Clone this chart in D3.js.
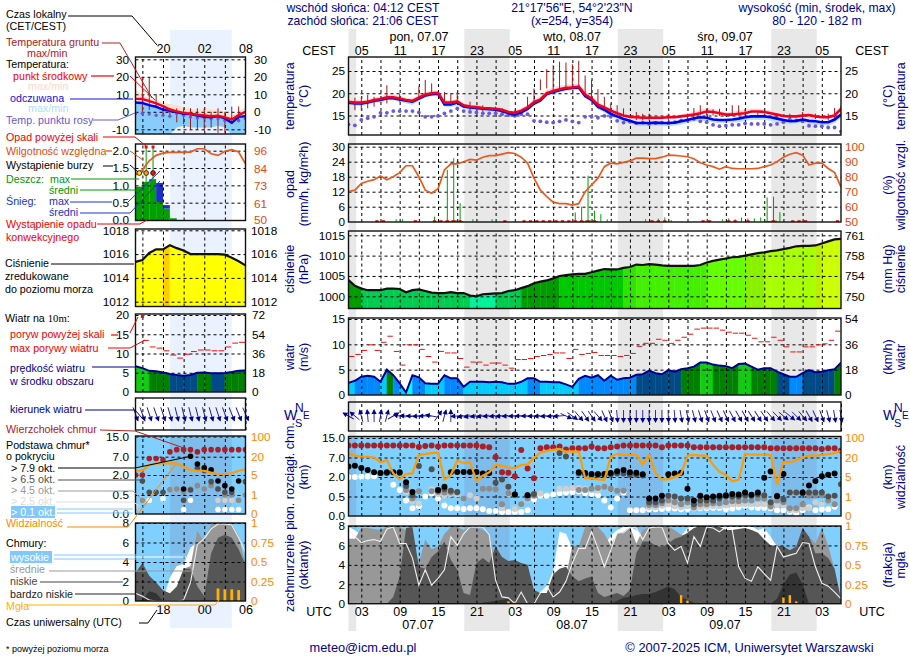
<!DOCTYPE html>
<html>
<head>
<meta charset="utf-8">
<script src="https://cdn.jsdelivr.net/npm/d3@7"></script>
<style>
html, body { margin: 0; padding: 0; background: #fff; }
text { font-family: "Liberation Sans", Arial, sans-serif; font-size: 10.7px; }
</style>
</head>
<body>
<svg id="chart" width="910" height="660"></svg>
<script>
const N = null;

// main meteogram: hourly, index 0 = 07.07 01 UTC
const temperature = [18.1,17.9,17.9,18.1,18.5,18.7,19.1,19.1,18.8,18.5,18.3,19,19.7,20,20.1,17.9,17.9,18.2,17.3,17,16.9,16.7,16.6,16.5,16.3,15.8,15.6,16.1,16.8,18,18.6,20,20.5,20.9,21.2,21.3,21.5,19.7,18.8,17.4,16.8,16.1,15.5,15,14.7,14.6,14.5,14.5,14.5,14.5,14.6,14.6,14.8,15,15.2,15.5,15.9,15.8,15.5,15.2,15.2,15.4,15.5,15.9,15.9,15.8,15.5,15.2,14.9,14.8,14.8,15,15.1,14.8,14.6,14.6,15,16.5];
const temperatureMax = [18.9,18.5,18.5,18.6,19,19.3,19.8,19.7,19.5,19,18.9,19.6,20.3,20.6,20.6,18.5,18.4,18.7,17.8,17.5,17.3,17.1,17,16.9,16.7,16.2,16,16.6,17.4,18.6,19.4,20.8,21.3,21.7,21.9,22,22.2,20.6,19.6,18.1,17.3,16.6,16,15.4,15.1,15,14.9,14.8,14.8,14.8,15,15,15.3,15.5,15.9,16.3,16.7,16.5,16.1,15.8,15.8,16.2,16.4,16.6,16.6,16.4,16.1,15.7,15.3,15.1,15.1,15.4,15.5,15.2,15,15,15.6,17.2];
const feelsLike = [17.9,17.7,17.7,17.9,18.3,18.5,18.9,18.9,18.6,18.3,18.1,18.8,19.5,19.8,19.9,17.5,17.5,17.9,17,16.8,16.7,16.5,16.4,16.3,16,15.5,15.2,15.7,16.5,17.7,18.4,19.8,20.3,20.7,21,21.2,21.3,19.4,18.5,17,16.3,15.4,14.8,14.2,13.8,13.3,13.3,13.3,13.4,13.3,13.3,13.4,13.7,14,14.4,14.6,14.5,14.1,14,14,14.1,14.3,14.6,14.8,14.8,14.8,14.6,14.3,14,13.7,13.8,14.1,13.8,13.7,13.5,13.5,14.1,15.2];
const feelsLikeMin = [17.4,17.2,17.2,17.5,17.8,18,18.4,18.4,18.1,17.7,17.4,18.2,19,19.3,19.4,17,16.9,17.3,16.5,16.2,16.1,16,15.9,15.8,15.5,15,14.7,15.2,16,17.2,17.9,19.3,19.8,20.2,20.5,20.7,20.8,18.9,18,16.4,15.7,14.8,14.2,13.6,13.2,12.7,12.6,12.6,12.7,12.6,12.6,12.7,13,13.3,13.6,13.8,13.7,13.4,13.3,13.3,13.4,13.5,13.8,14,14,14,13.8,13.5,13.2,13,13.1,13.4,13.1,12.9,12.7,12.7,13.3,14.5];
const dewPoint = [13,12.8,14,14.4,14.7,15.6,15.6,16,16,16,16,15.7,14.7,14.7,14.9,15.5,16,16.6,16,15.8,15.7,15.5,15.5,15.5,15.3,15.1,14.9,15.3,15.3,13.8,13.7,13.5,13.4,13.7,14,13.7,13.4,14.7,14.7,14.5,14.9,14.7,13.8,13.4,13.6,13.3,13.4,13.1,13.3,13.4,13.3,13.5,13.9,14,14.2,13.7,13.5,12.9,12.6,12.7,12.9,12.9,13.2,13.1,13.1,13.1,12.9,13.1,13.5,14.1,13.9,13.7,12.7,12.6,12.6,12.3,12.3,11.4];
const groundMax = [N,19,19.2,19.6,19.2,N,21.8,N,19.8,N,N,21.5,23,22.2,N,20.3,20,20.3,N,18.1,N,17.3,N,17,16.6,N,16.2,N,19.2,21.1,23.1,25.4,26.3,27.1,26.9,26.5,27.3,24,23,20.9,19.2,17.7,17.3,16.6,N,15.8,15.4,15.4,N,N,15.4,N,N,15.4,16.7,17.3,16.5,16.4,16.5,N,17.3,17.3,16.5,N,15.8,15.4,N,15.4,N,15.4,N,15.8,N,15.4,N,15.4,16.7,17.2];
const groundMin = [N,16.2,16.2,16.6,17,N,17.7,N,18.1,N,N,19,19.6,19.6,N,17.3,17.3,17.7,N,16.2,N,15.8,N,15.5,15.1,N,15.1,N,17,18.1,20.7,21.1,20.7,20.7,21.1,21.3,21.3,19.2,18.5,16.6,16.6,15.5,15.1,14.7,N,14,13.9,13.9,N,N,13.9,N,N,14.2,14.6,15,15,15,14.9,N,15,15,15,N,14.6,14.6,N,14.2,N,14.2,N,14.2,N,14.2,N,13.9,13.9,15];
const humidity = [70,71,75.5,77,78,80.5,78,80,82.7,87.3,87.3,80,71,69,72,84.5,88.5,88.5,90,91.5,91,93,94,94,95,96,95.5,93,89,79,71,66.7,63,62,62,61,62,70,74.5,79,86.7,89,88.5,89.5,90.5,92.4,92.4,92,92,93,94.4,94.2,93.8,93.3,92,89.3,87.8,86.7,85,86.7,85.5,85.3,85.3,85.3,85.5,86.7,87.8,90,93,95,96,94.4,87.8,89,89,85.5,82.7,73];
const rainMax = [0,0,0,0,0,0,0,1,1,0,0,0,0,2,0,20.7,25.4,7.4,0,1,0,0,1,0,0,0,0,0,0,0,0,0,0,0,0,3.7,6,18.4,4.4,3,1,0,0,0,0,0,1,0,1.2,1.7,.7,0,0,0,0,0,0,0,1,1.3,1,1.7,1.3,1.3,1.7,9.7,10,3.8,0,0,0,0,0,0,0,0,0];
const rainMean = [0,0,0,0,0,0,0,0,0,0,0,0,0,0,0,.3,.5,.3,0,0,0,0,0,0,0,0,0,0,0,0,0,0,0,0,0,0,.3,.5,.3,0,0,0,0,0,0,0,0,0,0,0,0,0,0,0,0,0,0,0,0,0,0,0,0,0,0,.3,.4,0,0,0,0,0,0,0,0,0,0];
const convectiveHours = [4,5,10,13,14,15,16,17,24,27,28,29,30,31,32,33,34,35,36,37,38,47,48,49,55,56,59,60,62,66,69,70,71,76];
const pressure = [1004,1002.6,1001.9,1001.5,1001.5,1001.5,1001.9,1001.9,1001.8,1001,1001.5,1001.7,1001.3,1000.9,1000.8,1000.8,1001,1000.8,1000.8,1000.2,1000,1000.5,1000.6,1000.7,1000.8,1001.3,1001.5,1002,1002.5,1003.2,1003.6,1003.9,1004.4,1005,1005.2,1005.4,1005.5,1005.5,1005.9,1006.3,1006.7,1006.6,1006.6,1007,1007.2,1007.8,1007.7,1007.9,1007.8,1007.6,1007.5,1007.5,1007.5,1007.5,1007.5,1007.7,1008.3,1008.7,1009,1009.3,1009.6,1009.7,1010,1010.3,1010.6,1010.8,1011.1,1011.3,1011.6,1011.9,1012.3,1012.4,1012.4,1012.5,1013,1013.5,1014,1014.1];
const windSpeed = [2.4,2.8,3.6,3.8,3.6,2.6,5,3.9,2.3,.5,3.9,3.5,2.3,2.2,2.2,3.9,3.3,3.3,1.6,2.6,2.6,2.6,2.5,2.6,2.5,2.2,2.2,2.6,3.3,3.3,2.6,2.6,2.5,2.5,2.1,1.6,3.2,3.8,3.4,3.9,2.8,3.8,3,3.3,3.4,4,4.1,4.8,4.3,4.1,4.9,4.6,5.1,5.3,5.6,6.4,6.4,6,5.8,5.7,5.3,6.1,6.2,5.6,5,5.3,5.3,4.6,4.1,3.6,3.6,4.3,4.9,4.5,4.6,4.9,5.1,6.4];
const windGust = [7.6,8,8.8,9.9,8.8,10.4,11.6,8.6,5.9,9.9,9.9,9,7.6,6.5,8.6,8.3,8.3,7.2,5.5,6.5,6.5,5.9,6.3,6.3,5.9,5.3,7,7,7.2,7.6,7.8,8,8.3,8.3,7.2,9,8,8.2,8.4,7.8,7.8,7.8,7.6,7.8,8.2,9.6,10.2,10.2,11,10.8,10.2,10.8,11.4,12,13,13.2,13.2,13.2,12.8,12.4,12.2,12.2,11.8,11.2,10.5,10.5,11.4,10.8,9.5,8.5,8.5,9.5,9.5,9.9,10.1,10.8,12.6];
const windHeading = [300,310,345,355,0,10,15,60,280,275,270,265,270,280,35,15,0,265,260,260,262,262,265,265,265,268,268,270,270,268,268,266,265,265,115,125,140,145,145,140,155,160,175,180,180,180,180,180,180,180,178,175,170,168,165,162,160,158,155,155,152,150,150,148,148,145,140,135,130,130,135,140,150,155,160,165,170,170];
const cloudTop = [11.9,11.9,11.9,11.9,11.9,11.9,11.9,11.9,11.9,11.9,11.9,11.3,11.7,11.9,11.5,11.9,11.9,11.9,11.9,11.9,11.9,11.5,11.2,7.2,3.2,3.1,2.2,10.1,4.2,1.9,10.8,11.2,11.2,11.5,10.3,10.8,10.8,10.8,11.5,10.8,10.8,11.2,11.5,11.9,11.9,11.9,11.9,11.9,11.9,11.2,11.9,11.9,11.9,11.9,11.2,11.2,11.2,11.2,11.2,11.2,11.2,11.2,11.2,11.2,11.2,11.2,10.8,10.8,10.8,10.8,10.8,10.8,10.8,10.8,10.5,10.8,10.8,9.9];
const baseOver79 = [4.7,4.9,4.3,3.8,3.2,3,3.2,3.2,3.2,1.6,.85,N,N,N,1,1.25,3.2,3.3,3.3,3.3,3.3,2.9,3,N,N,N,.65,N,.6,N,N,N,N,N,N,N,3.2,3,2.8,2.8,2.8,3,3.5,3.8,3.2,3.1,2.7,.45,.45,.55,2.7,2.9,3.1,1.1,.4,.55,.48,.5,.55,.6,.7,.65,.8,.63,.8,1.95,3.4,.52,2.75,N,N,.8,1.35,1.7,2.2,2.6,2.9,N];
const baseOver65 = [N,N,N,N,N,3,3,N,3,1.3,.6,4.85,N,4,.95,1.05,.95,.85,N,N,N,N,N,1.55,1.8,1.25,.65,N,.6,.7,N,N,N,8.8,7.4,N,2.9,2.7,2.5,2.5,2.5,2.7,2.9,2.9,2.5,2.6,2.4,.35,.35,.4,.55,.5,.45,.45,.3,.4,.4,.4,.45,.5,.5,.5,.6,.55,.65,.6,.35,.55,.42,.8,.8,.75,.8,.8,.8,.5,.55,1.45];
const baseOver45 = [N,N,N,N,N,N,N,N,N,1,.45,.9,N,.9,.85,.8,.8,.8,.45,N,N,1.1,1.1,1.05,.3,.75,.6,.3,.45,.55,N,N,N,N,N,N,1,1,1.1,1.15,1.25,1.1,.95,.95,N,N,N,.28,.28,.33,.4,.35,.3,.35,.22,.3,.3,.33,.33,.35,.38,.38,.4,.4,.45,.45,.25,.4,.35,.2,.2,.3,.55,.6,.6,.4,.3,N];
const baseOver25 = [N,N,N,N,N,N,N,N,N,.85,.38,.32,N,1.05,.7,.55,.7,.65,.45,.6,.45,N,N,N,.2,.7,.18,.28,.42,.65,.73,N,N,1.1,1.1,1.15,1.15,1.1,1,.95,N,N,N,N,N,N,N,.22,.22,.26,.3,.25,.22,.25,.2,.22,.24,.25,.25,.27,.3,.3,.3,.3,.3,.3,.22,.28,.27,.15,.15,.2,.2,.35,.3,.45,.5,N];
const baseOver01 = [2,2,2.05,2.1,2.2,N,N,1.4,1,.4,.2,.25,.5,.75,.45,.27,.2,.2,.18,.2,.2,.17,.13,.13,.1,.1,.1,.1,.15,.42,.55,.55,.65,.75,.8,.85,.88,.75,.7,.6,.4,.22,.45,.8,.15,.15,.15,.17,.17,.18,.19,.19,.17,.18,.2,.2,.2,.21,.21,.17,.19,.22,.26,.22,.21,.21,.2,.15,.15,.11,.08,.15,.22,.15,.17,.17,.24,N];
const visibility = [35,28,24,23,20,16.4,18,7.8,4.5,7.3,7.8,31,34,38,40,4.5,6.5,17.7,15.6,16.4,4.2,6,8.6,14.3,13.5,12.5,11.7,14.3,14.6,19.5,40,47,51,55,44,45,44,4.7,4.7,4.5,4.4,24,34,31,31,31,14.8,31,7.8,4.5,4.5,5.1,7.3,28,31,28,28,14.3,9,6.5,4.1,4.4,35,32,32,32,31,3.5,16.6,16.4,18,21,28,28,31,34,38,47];
const cloudHigh = [7.9,7.6,7,6.5,6.5,6.5,6.5,6.5,6,6,5,4,4,4,4,4,5,5,5,5,5,5,5,2,0,0,0,0,0,1.1,1.2,1.75,3.4,7.4,7.2,5.7,5.5,5,5,5,6,7,7.6,7.9,7.9,7.6,7,7,7,7,7,7,7,7.8,8,8,8,7.9,8,8,7.9,7.9,8,8,7.6,7.8,6.9,5.9,4,3,2,2,2,1,1,0,0,0];
const cloudMid = [6.7,6.7,7.8,7.8,7.7,7.6,7.9,8,7.9,7.6,6.4,4.2,6.6,5.6,5.9,7.2,7.9,7.9,7.6,7.9,7.8,7.6,7.2,4.2,0,0,0,0,0,0,1.1,1.1,2.5,2.8,2.8,6,5.9,7.9,8,7.9,7.2,6,7.2,7.4,7.9,6.2,7.6,7.9,7.8,7.9,7.9,7.6,7.1,7.1,7.6,7.9,7.9,7.9,7.9,7.6,7.5,7.6,7.7,7.6,7.3,6.6,6,5.9,5.9,5.5,5.5,7.6,6.9,6.2,7.8,6,3.5,.4];
const cloudLow = [0,0,0,0,0,0,0,.7,2.8,7.8,7.9,3.8,3.6,4.8,5.4,6.4,4.5,3.5,1.1,.9,4.2,4.7,4.2,5.9,4.8,4.4,4.5,4.2,4,1.4,1.1,1.1,3,3.6,3.8,2.8,2.3,2.6,2.8,1.1,.7,.9,1.1,.8,1.4,5.2,6.4,6.4,6,5.8,6.2,6.7,6.9,7.3,7.8,8,8,7.9,7.9,7.6,7.6,7.7,7.8,7.6,7.3,6.6,6,6,5.9,5.5,5.9,7.8,6.9,5.2,5.2,4.7,3.6,.4];
const cloudVeryLow = [0,0,0,0,0,0,0,0,0,0,0,0,0,0,0,0,0,0,0,0,0,.1,.2,.3,.4,.5,0,0,0,0,0,0,0,0,0,0,0,0,0,0,0,0,.3,.6,.7,.9,1,1,1.2,1.5,1.8,1.5,.7,.4,.1,0,0,0,0,0,0,0,0,0,0,0,0,.5,2,3,3.2,2,0,0,0,0,0,0];
const cloudLine = [7.6,6.9,6.3,6.5,6.6,6.4,7.7,7.9,6.2,6.2,4.7,1.9,3.5,1.9,2.6,3.5,6.9,6,7.2,7.9,7.9,7.9,7.1,2.4,.7,.6,0,1.2,0,0,1.1,1.8,.7,1.2,2.3,4.2,5.7,5.7,7.4,5.7,3.8,5.5,7.3,7.3,7.9,7.8,6.6,7.8,7.9,7.9,6.2,5.5,5.9,4.2,6.9,5.9,7.9,7.8,7.4,7.9,7.6,3.8,2.6,2.3,3.8,3.1,2.4,5.9,4.8,5,5.2,6.3,6.2,3.8,2.1,1.8,1.2,.5];
const fogHours = [25,26,52,53,68,69,70];
const fogValues = [.03,.03,.11,.04,.08,.11,.03];

const nightStart = [-1,18.1,42.1,66.1];
const nightEnd = [1.2,25.2,49.2,73.2];
const gridHours = d3.range(2, 78, 3);
const localTicks = d3.range(2, 78, 6);
const localLabels = ["05","11","17","23","05","11","17","23","05","11","17","23","05"];
const utcLabels = ["03","09","15","21","03","09","15","21","03","09","15","21","03"];

// legend strip: hourly, index 0 = 14 UTC
const sideTemperature = [7.4,7.3,6.1,4.8,3.2,1.3,.2,-.6,-1.1,-1.7,-2.1,-2.5,-2.3,-3.2,-4.4,-1.9,0];
const sideTemperatureMax = [13,9.5,7.6,6.7,5.2,4.4,3.8,2.9,1.9,1,1.9,1.3,1,0,-1.9,0,2.9];
const sideFeelsLike = [5.3,5,3.8,2.9,1.3,.6,-.2,-1.1,-1.3,-2.1,-2.9,-3.2,-2.5,-3.8,-6.3,-2.9,-2.5];
const sideFeelsMin = [-13,-13,-13,-13,-13,-13,-9,-8,-9,-9,-9,-9,-8,-9,-13,-13,-13];
const sideDewPoint = [-1,-1,-1.3,-2,-2,-2.5,-1,-2,-3,-3.5,-3.5,-4,-4,-5,-6,-5,-4];
const sideGroundMax = [N,20,19.5,10,3,2,2,2,2,2,2,0,2,0,3,3,N];
const sideGroundMin = [N,0,1,2,-2,-3,-6,-7,-10,-10,-11,-9,-12,-12,-6,-6,N];
const sideHumidity = [80,83.3,89.3,92.9,94.4,94.9,94.9,95.1,95.1,97.3,97.3,94,92.9,95.6,96.7,95.1,87.3];
const sideRain = [.96,1.1,1.18,.52,.33,.05];
const sideSnow = [0,0,0,.55,.1,0];
const sideRainMaxHours = [0,1,2];
const sideRainMax = [.95,2.1,2.1];
const sideStormColors = ["#ffdd00","#ff9900","#ee1111"];
const sidePressure = [1015.35,1015.5,1016.1,1016.4,1016.4,1016.75,1016.5,1016.3,1016,1016,1016,1016,1016,1015.95,1015.7,1015.4,1015.05];
const sideWind = [6.7,6.2,5.5,5.4,5.1,4.7,4.4,4.2,4.4,5,5.05,4.9,4.9,4.95,5.2,5.5,5.6];
const sideGust = [N,13.4,11.7,11.4,10.7,9.6,8.8,9.8,10.5,10.9,10.9,10.7,10.7,11.7,12.7,12.9];
const sideHeading = [160,160,162,160,162,164,166,166,166,166,166,164,162,160,158,158,156];
const sideTop = [2,2,6.5,6.5,6.1,8.9,9.8,9.8,9.8,8.9,9.8,9.8,9.8,9.8,9.8,9.8,9.8];
const sideOver79 = [N,N,N,N,N,N,N,.95,7.2,5,4,3.4,1.55,1.2,.95,1.55,N];
const sideOver65 = [N,1.55,.7,.7,.7,N,N,.36,.87,3.8,3.2,1.5,.95,.7,.7,N,1.5];
const sideOver45 = [N,.36,N,N,N,.9,.95,.75,.95,1.2,.95,1.2,.95,.5,.5,.36,.5];
const sideOver25 = [.2,N,N,N,N,.9,N,N,N,N,N,N,.36,.36,.36,N,N];
const sideOver01 = [N,.36,.36,N,.4,N,N,.12,.36,N,N,N,.12,.12,.12,.12,N];
const sideVisibility = [8.5,8.5,13.2,14.5,14.5,14.5,14.5,11.8,9.1,8.5,8.5,6.9,5.8,5.8,6.4,8.5,9.6];
const sideHigh = [0,0,0,0,.1,2.4,3.6,3.8,5.5,6,6,6,6,6,5,3,0];
const sideMid = [0,0,0,0,0,0,0,3.3,3.6,7.2,6,7.9,7.9,8,8,6.7,3.8];
const sideLow = [2.9,3.9,2.6,1.9,1.1,.8,1.5,3.3,3.3,1.5,.5,4.9,6.5,6.8,6.5,5.3,3.7];
const sideVeryLow = [0,.1,1,.8,0,0,0,0,0,0,0,0,0,0,0,0,0];
const sideLine = [.8,.5,.1,0,0,0,0,.1,1.9,5.8,6.4,7.4,7.9,7.9,7.8,6.5,5];
const sideFogHours = [12,13,14,15];
const sideFog = [.16,.15,.15,.14];

const navy = "#000090", orange = "#ff8800", rhOrange = "#e04a10", sky = "#80d0ff";

let svg = d3.select("#chart");
let xMain = d3.scaleLinear().domain([0, 77]).range([348.5, 841]);
let xSide = d3.scaleLinear().domain([0, 16]).range([135.5, 245.5]);

let clip = svg.append("defs");

let pressureColor = d3.scaleThreshold()
    .domain([1000.7, 1002, 1004.6, 1006.9, 1007.4, 1008.2, 1009.8, 1010.7, 1012.5, 1013])
    .range(["#00f29a", "#00cc50", "#009c00", "#00c800", "#2de600", "#44f000", "#66ff00", "#88f000", "#a8ff00", "#bbee00", "#ccff00"]);
let sidePressureColor = d3.scaleThreshold().domain([1016.6]).range(["#ffff00", "#ffcc00"]);
let windColor = d3.scaleThreshold()
    .domain([1, 2.7, 3.95, 4.95, 6.05])
    .range(["#00ffee", "#00ccff", "#0088ff", "#004a88", "#008000", "#11cc11"]);
let sideWindColor = d3.scaleThreshold().domain([4.95, 5.55]).range(["#004a88", "#008000", "#11cc11"]);

function dashedGrid(g, x, y, top, bottom, hours, levels) {
    let vertical = g.append("g").attr("transform", `translate(0,${bottom})`)
        .call(d3.axisBottom(x).tickValues(hours).tickSize(top - bottom).tickFormat(""));
    let horizontal = g.append("g").attr("transform", `translate(${x.range()[0]},0)`)
        .call(d3.axisLeft(y).tickValues(levels).tickSize(x.range()[0] - x.range()[1]).tickFormat(""));
    [vertical, horizontal].forEach(a => {
        a.select(".domain").remove();
        a.selectAll("line").attr("stroke", "#000").attr("stroke-dasharray", "3,3");
    });
}

function tickLabels(y, levels, labels, posX, side, color) {
    let axis = side === "left" ? d3.axisLeft(y) : d3.axisRight(y);
    let a = svg.append("g").attr("transform", `translate(${posX},0)`)
        .call(axis.tickValues(levels).tickSize(0).tickPadding(0).tickFormat((d, i) => labels[i]));
    a.select(".domain").remove();
    a.selectAll("text").attr("fill", color || "#000").style("font-size", "11.8px");
}

function frame(x, top, bottom) {
    svg.append("rect").attr("x", x.range()[0]).attr("y", top)
        .attr("width", x.range()[1] - x.range()[0]).attr("height", bottom - top)
        .attr("fill", "none").attr("stroke", "#111").attr("stroke-width", 1.4);
}

function clipped(id, x, top, bottom) {
    clip.append("clipPath").attr("id", id).append("rect")
        .attr("x", x.range()[0]).attr("y", top)
        .attr("width", x.range()[1] - x.range()[0]).attr("height", bottom - top);
    return svg.append("g").attr("clip-path", `url(#${id})`);
}

function lineOf(g, x, y, values, color, width) {
    g.append("path").datum(values)
        .attr("fill", "none").attr("stroke", color).attr("stroke-width", width)
        .attr("d", d3.line().defined(d => d !== null).x((d, i) => x(i)).y(d => y(d)));
}

function band(g, x, y, upper, lower, color) {
    g.append("path").datum(upper.map((d, i) => [d, lower[i]]))
        .attr("fill", color)
        .attr("d", d3.area().x((d, i) => x(i)).y0(d => y(d[1])).y1(d => y(d[0])));
}

// one filled slice per hour down to floorY, coloured by the value at its left edge (or right, with shift 1)
function slices(g, x, y, values, color, floorY, shift) {
    let area = d3.area().x(p => x(p[0])).y0(floorY).y1(p => y(p[1]));
    g.selectAll(null).data(values.slice(0, -1)).join("path")
        .attr("fill", (d, i) => color(values[i + (shift || 0)]))
        .attr("stroke", (d, i) => color(values[i + (shift || 0)])).attr("stroke-width", 0.4)
        .attr("d", (d, i) => area([[i, d], [i + 1, values[i + 1]]]));
}

function dots(g, x, y, values, color, r) {
    g.selectAll(null).data(values.map((d, i) => [i, d]).filter(d => d[1] !== null)).join("circle")
        .attr("cx", d => x(d[0])).attr("cy", d => y(d[1])).attr("r", r).attr("fill", color);
}

function arrows(g, x, cy, headings, size) {
    let a = g.selectAll(null).data(headings).join("g")
        .attr("transform", (d, i) => `translate(${x(i)},${cy}) rotate(${d})`);
    a.append("line").attr("y1", size).attr("y2", -size).attr("stroke", "#1a1aa0").attr("stroke-width", 0.9);
    a.append("path").attr("d", `M0,${-size - 1}L-2.6,${-size + 4}L2.6,${-size + 4}Z`).attr("fill", "#00008c");
}

function vText(x, cy, s, color) {
    svg.append("text").attr("transform", `translate(${x},${cy}) rotate(-90)`)
        .attr("text-anchor", "middle").attr("fill", color || navy).style("font-size", "12.5px").text(s);
}

function label(x, y, s, color, anchor, size) {
    let t = svg.append("text").attr("x", x).attr("y", y).attr("fill", color || "#000")
        .attr("text-anchor", anchor || "start").text(s);
    if (size) t.style("font-size", size + "px");
    return t;
}

function leader(points, color, width) {
    svg.append("path").attr("d", d3.line()(points)).attr("fill", "none")
        .attr("stroke", color).attr("stroke-width", width || 1);
}

// day / night background
svg.selectAll(null).data(nightStart).join("rect")
    .attr("x", d => Math.max(xMain(d), 348.5)).attr("y", 29)
    .attr("width", (d, i) => xMain(nightEnd[i]) - Math.max(xMain(d), 348.5)).attr("height", 602)
    .attr("fill", "#e8e8e8");
svg.append("rect").attr("x", xSide(5)).attr("y", 30).attr("width", xSide(14) - xSide(5)).attr("height", 598)
    .attr("fill", "#eaf2ff");

// temperature, main
let yTemp = d3.scaleLinear().domain([15, 25]).range([115.5, 71]);
let p1 = clipped("p1", xMain, 57, 135);
band(p1, xMain, yTemp, temperatureMax, temperature, "#ffd9dc");
band(p1, xMain, yTemp, feelsLike, feelsLikeMin, "#b8e2ff");
dashedGrid(p1, xMain, yTemp, 57, 135, gridHours, [15, 20, 25]);
p1.selectAll(null).data(groundMax.map((d, i) => [i, d, groundMin[i]]).filter(d => d[1] !== null)).join("line")
    .attr("x1", d => xMain(d[0])).attr("x2", d => xMain(d[0]))
    .attr("y1", d => yTemp(d[1])).attr("y2", d => yTemp(d[2]))
    .attr("stroke", "#a01818").attr("stroke-width", 1);
dots(p1, xMain, yTemp, dewPoint, "#6a58e0", 1.9);
lineOf(p1, xMain, yTemp, feelsLike, "#0000f0", 2.6);
lineOf(p1, xMain, yTemp, temperature, "#f00020", 2.6);
frame(xMain, 57, 135);
tickLabels(yTemp, [15, 20, 25], ["15", "20", "25"], 345, "left");
tickLabels(yTemp, [15, 20, 25], ["15", "20", "25"], 845, "right");

// precipitation and humidity, main
let yRain = d3.scaleLinear().domain([0, 30]).range([221.7, 146.7]);
let yRh = d3.scaleLinear().domain([50, 100]).range([221.7, 146.7]);
let p2 = clipped("p2", xMain, 144, 222);
dashedGrid(p2, xMain, yRain, 144, 222, gridHours, [6, 12, 18, 24, 30]);
p2.selectAll(null).data(rainMax.map((d, i) => [i, d]).filter(d => d[1] > 0)).join("line")
    .attr("x1", d => xMain(d[0] + .45)).attr("x2", d => xMain(d[0] + .45))
    .attr("y1", yRain(0)).attr("y2", d => yRain(d[1]))
    .attr("stroke", "#00a000").attr("stroke-width", 1);
p2.selectAll(null).data(rainMean.map((d, i) => [i, d]).filter(d => d[1] > 0)).join("rect")
    .attr("x", d => xMain(d[0])).attr("width", xMain(1) - xMain(0)).attr("y", d => yRain(d[1]))
    .attr("height", d => yRain(0) - yRain(d[1])).attr("fill", "#00a000");
lineOf(p2, xMain, yRh, humidity, "#e85a20", 1.7);
p2.selectAll(null).data(convectiveHours).join("rect")
    .attr("x", d => xMain(d + .45) - 1.6).attr("y", yRain(0) - 1.5).attr("width", 3.2).attr("height", 2.2)
    .attr("fill", "#e81010");
frame(xMain, 144, 222);
tickLabels(yRain, [0, 6, 12, 18, 24, 30], ["0", "6", "12", "18", "24", "30"], 345, "left");
tickLabels(yRh, [50, 60, 70, 80, 90, 100], ["50", "60", "70", "80", "90", "100"], 845, "right", rhOrange);

// pressure, main
let yPressure = d3.scaleLinear().domain([1000, 1015]).range([296.3, 235.3]);
let p3 = clipped("p3", xMain, 231, 308.5);
slices(p3, xMain, yPressure, pressure, pressureColor, 308.5);
dashedGrid(p3, xMain, yPressure, 231, 308.5, gridHours, [1000, 1005, 1010, 1015]);
lineOf(p3, xMain, yPressure, pressure, "#111", 2.2);
frame(xMain, 231, 308.5);
tickLabels(yPressure, [1000, 1005, 1010, 1015], ["1000", "1005", "1010", "1015"], 345, "left");
tickLabels(yPressure, [1000, 1005, 1010, 1015], ["750", "754", "758", "761"], 845, "right");

// wind, main
let yWind = d3.scaleLinear().domain([0, 15]).range([395, 319]);
let p4 = clipped("p4", xMain, 318, 395);
slices(p4, xMain, yWind, windSpeed, windColor, 395);
dashedGrid(p4, xMain, yWind, 318, 395, gridHours, [5, 10, 15]);
p4.selectAll(null).data(windGust).join("line")
    .attr("x1", (d, i) => xMain(i) + .5).attr("x2", (d, i) => xMain(i + 1) - .5)
    .attr("y1", d => yWind(d)).attr("y2", d => yWind(d))
    .attr("stroke", "#f01010").attr("stroke-width", 1);
lineOf(p4, xMain, yWind, windSpeed, "#000090", 2);
frame(xMain, 318, 395);
tickLabels(yWind, [0, 5, 10, 15], ["0", "5", "10", "15"], 345, "left");
tickLabels(yWind, [0, 5, 10, 15], ["0", "18", "36", "54"], 845, "right");

// wind direction, main
let p5 = svg.append("g");
dashedGrid(p5, xMain, d3.scaleLinear().range([431, 402]), 402, 431, gridHours, []);
arrows(p5, xMain, 416, windHeading, 6);
frame(xMain, 402, 431);

// cloud base and visibility, main
let yBase = d3.scaleLinear().domain([0, .5, 2, 7, 15]).range([516, 496.5, 477, 457.5, 438]);
let yVis = d3.scaleLinear().domain([0, 1, 5, 20, 100]).range([516, 496.5, 477, 457.5, 438]);
let p6 = clipped("p6", xMain, 436.5, 516);
p6.append("rect").attr("x", 348).attr("y", 436).attr("width", 494).attr("height", 81).attr("fill", sky);
p6.selectAll(null).data(nightStart).join("rect")
    .attr("x", d => xMain(d)).attr("y", 436).attr("width", (d, i) => xMain(nightEnd[i]) - xMain(d)).attr("height", 81)
    .attr("fill", "#7ebcec");
dashedGrid(p6, xMain, yBase, 436.5, 516, gridHours, [.5, 2, 7, 15]);
dots(p6, xMain, yBase, baseOver01, "#fff", 3);
dots(p6, xMain, yBase, baseOver25, "#cfcfcf", 3);
dots(p6, xMain, yBase, baseOver45, "#8c8c8c", 3);
dots(p6, xMain, yBase, baseOver65, "#505050", 3);
dots(p6, xMain, yBase, baseOver79, "#000", 3);
dots(p6, xMain, yBase, cloudTop, "#a52028", 3);
lineOf(p6, xMain, yVis, visibility, "#ff9a00", 2.2);
frame(xMain, 436.5, 516);
tickLabels(yBase, [0, .5, 2, 7, 15], ["0.0", "0.5", "2.0", "7.0", "15.0"], 345, "left");
tickLabels(yVis, [0, 1, 5, 20, 100], ["0", "1", "5", "20", "100"], 845, "right", orange);

// clouds and fog, main
let yCloud = d3.scaleLinear().domain([0, 8]).range([603.7, 526]);
let yFog = d3.scaleLinear().domain([0, 1]).range([603.7, 526]);
let p7 = clipped("p7", xMain, 526, 603.7);
p7.append("rect").attr("x", 348).attr("y", 525).attr("width", 494).attr("height", 80).attr("fill", sky);
p7.selectAll(null).data(nightStart).join("rect")
    .attr("x", d => xMain(d)).attr("y", 525).attr("width", (d, i) => xMain(nightEnd[i]) - xMain(d)).attr("height", 80)
    .attr("fill", "#7ebcec");
let floor = cloudHigh.map(() => 0);
band(p7, xMain, yCloud, cloudHigh, floor, "#fff");
band(p7, xMain, yCloud, cloudMid, floor, "#989898");
band(p7, xMain, yCloud, cloudLow, floor, "#565656");
band(p7, xMain, yCloud, cloudVeryLow, floor, "#333");
dashedGrid(p7, xMain, yCloud, 526, 603.7, gridHours, [2, 4, 6, 8]);
lineOf(p7, xMain, yCloud, cloudLine, "#f0f0f0", 1.1);
p7.selectAll(null).data(fogHours).join("rect")
    .attr("x", d => xMain(d) - 1.2).attr("width", 2.4)
    .attr("y", (d, i) => yFog(fogValues[i])).attr("height", (d, i) => yFog(0) - yFog(fogValues[i]))
    .attr("fill", "#ffb000");
frame(xMain, 526, 603.7);
tickLabels(yCloud, [0, 2, 4, 6, 8], ["0", "2", "4", "6", "8"], 345, "left");
tickLabels(yFog, [0, .25, .5, .75, 1], ["0", "0.25", "0.5", "0.75", "1"], 845, "right", orange);

// time axes, main
let topAxis = svg.append("g").attr("transform", "translate(0,45)")
    .call(d3.axisTop(xMain).tickValues(localTicks).tickSize(0).tickPadding(-10).tickFormat((d, i) => localLabels[i]));
let bottomAxis = svg.append("g").attr("transform", "translate(0,607)")
    .call(d3.axisBottom(xMain).tickValues(localTicks).tickSize(0).tickPadding(0).tickFormat((d, i) => utcLabels[i]));
[topAxis, bottomAxis].forEach(a => {
    a.select(".domain").remove();
    a.selectAll("text").style("font-size", "12.5px").attr("fill", "#000");
});

// legend strip, temperature
let ySideTemp = d3.scaleLinear().domain([-10, 30]).range([129.3, 59.3]);
let s1 = clipped("s1", xSide, 57, 134);
band(s1, xSide, ySideTemp, sideTemperatureMax, sideTemperature, "#ffdfd0");
band(s1, xSide, ySideTemp, sideFeelsLike, sideFeelsMin, "#88ccfb");
dashedGrid(s1, xSide, ySideTemp, 57, 134, d3.range(1, 17, 3), [-10, 0, 10, 20, 30]);
s1.selectAll(null).data(sideGroundMax.map((d, i) => [i, d, sideGroundMin[i]]).filter(d => d[1] !== null)).join("line")
    .attr("x1", d => xSide(d[0])).attr("x2", d => xSide(d[0]))
    .attr("y1", d => ySideTemp(d[1])).attr("y2", d => ySideTemp(d[2]))
    .attr("stroke", "#a01818").attr("stroke-width", 1);
dots(s1, xSide, ySideTemp, sideDewPoint, "#6a58e0", 1.7);
lineOf(s1, xSide, ySideTemp, sideFeelsLike, "#0000f0", 2.4);
lineOf(s1, xSide, ySideTemp, sideTemperature, "#f00020", 2.4);
frame(xSide, 57, 134);
tickLabels(ySideTemp, [-10, 0, 10, 20, 30], ["-10", "0", "10", "20", "30"], 129, "left");
tickLabels(ySideTemp, [-10, 0, 10, 20, 30], ["-10", "0", "10", "20", "30"], 254, "right");

// legend strip, precipitation
let ySideRain = d3.scaleLinear().domain([0, 2]).range([220, 150.7]);
let ySideRh = d3.scaleLinear().domain([50, 96]).range([220, 150.7]);
let s2 = clipped("s2", xSide, 144, 220.5);
s2.selectAll(null).data(sideRain).join("rect")
    .attr("x", (d, i) => xSide(i)).attr("width", xSide(1) - xSide(0))
    .attr("y", d => ySideRain(d)).attr("height", d => ySideRain(0) - ySideRain(d)).attr("fill", "#00a000");
s2.selectAll(null).data(sideSnow).join("rect")
    .attr("x", (d, i) => xSide(i)).attr("width", xSide(1) - xSide(0))
    .attr("y", (d, i) => ySideRain(sideRain[i] + d)).attr("height", d => ySideRain(0) - ySideRain(d)).attr("fill", "#1a30c8");
dashedGrid(s2, xSide, ySideRain, 144, 220.5, d3.range(1, 17, 3), [.5, 1, 1.5, 2]);
s2.selectAll(null).data(sideRainMaxHours).join("line")
    .attr("x1", d => xSide(d + .55)).attr("x2", d => xSide(d + .55))
    .attr("y1", (d, i) => ySideRain(sideRain[i])).attr("y2", (d, i) => ySideRain(sideRainMax[i]))
    .attr("stroke", "#00a000");
lineOf(s2, xSide, ySideRh, sideHumidity, "#e85a20", 1.7);
s2.selectAll(null).data(sideRainMaxHours.slice(1)).join("rect")
    .attr("x", d => xSide(d + .55) - 1.5).attr("y", 145.5).attr("width", 3).attr("height", 3).attr("fill", "#e81010");
s2.selectAll(null).data(sideStormColors).join("circle")
    .attr("cx", (d, i) => xSide(i + .55)).attr("cy", 173).attr("r", 2.4)
    .attr("fill", d => d).attr("stroke", "#111").attr("stroke-width", .8);
s2.append("line").attr("x1", xSide(0)).attr("x2", xSide(4)).attr("y1", 219.7).attr("y2", 219.7)
    .attr("stroke", "#e81010").attr("stroke-width", 1.2).attr("stroke-dasharray", "2,2");
frame(xSide, 144, 220.5);
tickLabels(ySideRain, [0, .5, 1, 1.5, 2], ["0.0", "0.5", "1.0", "1.5", "2.0"], 129, "left");
tickLabels(ySideRh, [50, 61, 73, 84, 96], ["50", "61", "73", "84", "96"], 254, "right", rhOrange);

// legend strip, pressure
let ySidePressure = d3.scaleLinear().domain([1012, 1018]).range([301.7, 230.3]);
let s3 = clipped("s3", xSide, 229, 306.5);
slices(s3, xSide, ySidePressure, sidePressure, sidePressureColor, 306.5, 1);
dashedGrid(s3, xSide, ySidePressure, 229, 306.5, d3.range(1, 17, 3), [1012, 1014, 1016, 1018]);
lineOf(s3, xSide, ySidePressure, sidePressure, "#111", 2.2);
frame(xSide, 229, 306.5);
tickLabels(ySidePressure, [1012, 1014, 1016, 1018], ["1012", "1014", "1016", "1018"], 129, "left");
tickLabels(ySidePressure, [1012, 1014, 1016, 1018], ["1012", "1014", "1016", "1018"], 251, "right");

// legend strip, wind
let ySideWind = d3.scaleLinear().domain([0, 20]).range([392, 315]);
let s4 = clipped("s4", xSide, 314, 392);
slices(s4, xSide, ySideWind, sideWind, sideWindColor, 392);
dashedGrid(s4, xSide, ySideWind, 314, 392, d3.range(1, 17, 3), [5, 10, 15, 20]);
s4.selectAll(null).data(sideGust.map((d, i) => [i, d]).filter(d => d[1] !== null)).join("line")
    .attr("x1", d => xSide(d[0]) + .5).attr("x2", d => xSide(d[0] + 1) - .5)
    .attr("y1", d => ySideWind(d[1])).attr("y2", d => ySideWind(d[1]))
    .attr("stroke", "#f01010");
lineOf(s4, xSide, ySideWind, sideWind, "#000090", 2);
s4.append("rect").attr("x", xSide(1) - 1.5).attr("y", 315).attr("width", 3).attr("height", 3).attr("fill", "#e81010");
frame(xSide, 314, 392);
tickLabels(ySideWind, [0, 5, 10, 15, 20], ["0", "5", "10", "15", "20"], 129, "left");
tickLabels(ySideWind, [0, 5, 10, 15, 20], ["0", "18", "36", "54", "72"], 252, "right");

// legend strip, wind direction
let s5 = svg.append("g");
dashedGrid(s5, xSide, d3.scaleLinear().range([430, 398]), 398, 430, d3.range(1, 17, 3), []);
arrows(s5, xSide, 414, sideHeading, 7);
frame(xSide, 398, 430);

// legend strip, cloud base
let ySideBase = d3.scaleLinear().domain([0, .5, 2, 7, 15]).range([514, 495, 475, 456.7, 436.5]);
let ySideVis = d3.scaleLinear().domain([0, 1, 5, 20, 100]).range([514, 495, 475, 456.7, 436.5]);
let s6 = clipped("s6", xSide, 436, 514);
s6.append("rect").attr("x", 135).attr("y", 436).attr("width", 111).attr("height", 78).attr("fill", sky);
s6.append("rect").attr("x", xSide(5)).attr("y", 436).attr("width", xSide(14) - xSide(5)).attr("height", 78).attr("fill", "#7ebcec");
dashedGrid(s6, xSide, ySideBase, 436, 514, d3.range(1, 17, 3), [.5, 2, 7, 15]);
dots(s6, xSide, ySideBase, sideOver01, "#fff", 2.8);
dots(s6, xSide, ySideBase, sideOver25, "#cfcfcf", 2.8);
dots(s6, xSide, ySideBase, sideOver45, "#8c8c8c", 2.8);
dots(s6, xSide, ySideBase, sideOver65, "#505050", 2.8);
dots(s6, xSide, ySideBase, sideOver79, "#000", 2.8);
dots(s6, xSide, ySideBase, sideTop, "#a52028", 2.8);
lineOf(s6, xSide, ySideVis, sideVisibility, "#ff9a00", 2.2);
frame(xSide, 436, 514);
tickLabels(ySideBase, [0, .5, 2, 7, 15], ["0.0", "0.5", "2.0", "7.0", "15.0"], 129, "left");
tickLabels(ySideVis, [0, 1, 5, 20, 100], ["0", "1", "5", "20", "100"], 251, "right", orange);

// legend strip, clouds
let ySideCloud = d3.scaleLinear().domain([0, 8]).range([601, 523]);
let ySideFog = d3.scaleLinear().domain([0, 1]).range([601, 523]);
let s7 = clipped("s7", xSide, 523, 601);
s7.append("rect").attr("x", 135).attr("y", 523).attr("width", 111).attr("height", 78).attr("fill", sky);
s7.append("rect").attr("x", xSide(5)).attr("y", 523).attr("width", xSide(14) - xSide(5)).attr("height", 78).attr("fill", "#7ebcec");
let sideFloor = sideHigh.map(() => 0);
band(s7, xSide, ySideCloud, sideHigh, sideFloor, "#fff");
band(s7, xSide, ySideCloud, sideMid, sideFloor, "#989898");
band(s7, xSide, ySideCloud, sideLow, sideFloor, "#565656");
band(s7, xSide, ySideCloud, sideVeryLow, sideFloor, "#333");
dashedGrid(s7, xSide, ySideCloud, 523, 601, d3.range(1, 17, 3), [2, 4, 6, 8]);
lineOf(s7, xSide, ySideCloud, sideLine, "#f0f0f0", 1.1);
s7.selectAll(null).data(sideFogHours).join("rect")
    .attr("x", d => xSide(d) - 1.4).attr("width", 2.8)
    .attr("y", (d, i) => ySideFog(sideFog[i])).attr("height", (d, i) => ySideFog(0) - ySideFog(sideFog[i]))
    .attr("fill", "#ffb000");
frame(xSide, 523, 601);
tickLabels(ySideCloud, [0, 2, 4, 6, 8], ["0", "2", "4", "6", "8"], 129, "left");
tickLabels(ySideFog, [0, .25, .5, .75, 1], ["0", "0.25", "0.5", "0.75", "1"], 251, "right", orange);

// legend strip, time axes
let sideTop2 = svg.append("g").attr("transform", "translate(0,43)")
    .call(d3.axisTop(xSide).tickValues([4, 10, 16]).tickSize(0).tickPadding(-10).tickFormat((d, i) => ["20", "02", "08"][i]));
let sideBottom = svg.append("g").attr("transform", "translate(0,605)")
    .call(d3.axisBottom(xSide).tickValues([4, 10, 16]).tickSize(0).tickPadding(0).tickFormat((d, i) => ["18", "00", "06"][i]));
[sideTop2, sideBottom].forEach(a => {
    a.select(".domain").remove();
    a.selectAll("text").style("font-size", "12.5px").attr("fill", "#000");
});

// header and footer
label(363, 12, "wschód słońca: 04:12 CEST", navy, "middle", 12.2);
label(363, 25, "zachód słońca: 21:06 CEST", navy, "middle", 12.2);
label(572, 12, "21°17'56\"E, 54°2'23\"N", navy, "middle", 12.2);
label(572, 25, "(x=254,  y=354)", navy, "middle", 12.2);
label(817, 12, "wysokość (min, środek, max)", navy, "middle", 12.2);
label(817, 25, "80 - 120 - 182 m", navy, "middle", 12.2);
label(419, 41, "pon, 07.07", "#000", "middle", 12.5);
label(572, 41, "wto, 08.07", "#000", "middle", 12.5);
label(725, 41, "śro, 09.07", "#000", "middle", 12.5);
label(319, 55, "CEST", "#000", "middle", 12.5);
label(872, 55, "CEST", "#000", "middle", 12.5);
label(319, 616, "UTC", "#000", "middle", 12.5);
label(872, 616, "UTC", "#000", "middle", 12.5);
label(418, 629, "07.07", "#000", "middle", 12.5);
label(572, 629, "08.07", "#000", "middle", 12.5);
label(725, 629, "09.07", "#000", "middle", 12.5);
label(363, 652, "meteo@icm.edu.pl", navy, "middle", 12.8);
label(749.5, 652, "© 2007-2025 ICM, Uniwersytet Warszawski", navy, "middle", 12.9);

// axis titles
vText(294, 96, "temperatura"); vText(308, 96, "(°C)");
vText(294, 184, "opad"); vText(308, 184, "(mm/h, kg/m²h)");
vText(294, 269, "ciśnienie"); vText(308, 269, "(hPa)");
vText(294, 357, "wiatr"); vText(308, 357, "(m/s)");
vText(294, 476, "pion. rozciągł. chm."); vText(308, 477, "(km)");
vText(294, 573, "zachmurzenie"); vText(308, 565, "(oktanty)");
vText(905, 96, "temperatura"); vText(892, 96, "(°C)");
vText(905, 185, "wilgotność wzgl."); vText(892, 185, "(%)");
vText(905, 269, "ciśnienie"); vText(892, 269, "(mm Hg)");
vText(905, 357, "wiatr"); vText(892, 357, "(km/h)");
vText(905, 477, "widzialność"); vText(892, 477, "(km)");
vText(905, 565, "mgła"); vText(892, 565, "(frakcja)");

// compass roses
[[284, 295, 303], [883, 894, 902]].forEach(c => {
    label(c[0], 420, "W", navy, "start", 14);
    label(c[1], 412, "N", navy, "start", 12);
    label(c[2], 419, "E", navy, "start", 10);
    label(c[1], 427, "S", navy, "start", 11);
});

// legend notes
const brown = "#b02020", red = "#f00000", blue = "#1010e0", green = "#009900", dark = "#000090";
label(6, 18, "Czas lokalny");
label(6, 30, "(CET/CEST)");
leader([[68, 16], [132, 16], [157, 45]], "#000");
label(6, 46, "Temperatura gruntu", brown);
label(27, 57, "max/min", brown);
leader([[102, 43], [120, 43], [152, 98]], brown);
label(6, 68, "Temperatura:");
label(13, 80, "punkt środkowy", red);
leader([[91, 76], [114, 76]], red, 1.2);
leader([[130, 76], [155, 100]], red);
label(28, 90, "max/min", "#ffd8c8");
label(10, 102, "odczuwana", blue);
leader([[70, 99], [133, 99]], blue);
label(28, 112, "max/min", "#aee0ff");
label(6, 124, "Temp. punktu rosy", "#6a58d0");
leader([[93, 120], [118, 120], [135, 113]], "#6a58d0");
label(6, 141, "Opad powyżej skali", red);
leader([[103, 137], [135, 137], [146, 146]], red);
label(6, 155, "Wilgotność względna", rhOrange);
leader([[106, 151], [112, 151]], rhOrange, 1.2);
leader([[130, 151], [143, 160]], rhOrange);
label(6, 169, "Wystąpienie burzy");
leader([[103, 166], [113, 166]], "#000");
leader([[130, 165], [138, 172]], "#000");
label(6, 183, "Deszcz:", green);
label(50, 183, "max", green);
leader([[71, 179], [139, 179]], green);
label(49, 194, "średni", green);
leader([[80, 190], [148, 190]], green);
label(6, 205, "Śnieg:", "#2030d0");
label(49, 205, "max", "#2030d0");
leader([[70, 202], [112, 202]], "#2030d0");
leader([[128, 202], [160, 171]], "#2030d0");
label(49, 216, "średni", "#2030d0");
leader([[80, 213], [130, 213], [160, 181]], "#2030d0");
label(6, 228, "Wystąpienie opadu", red);
leader([[97, 224], [140, 224], [147, 220]], red);
label(6, 241, "konwekcyjnego", red);
label(5, 267, "Ciśnienie");
leader([[51, 264], [134, 264]], "#000");
label(5, 280, "zredukowane");
label(5, 293, "do poziomu morza");
let windTitle = label(5, 322, "Wiatr na ");
windTitle.append("tspan").style("font-family", "'Liberation Serif', serif").text("10m");
windTitle.append("tspan").text(":");
label(10, 338, "poryw powyżej skali", red);
leader([[111, 335], [118, 335]], red, 1.2);
leader([[130, 333], [138, 317]], red);
label(10, 352, "max porywy wiatru", red);
leader([[108, 348], [130, 348], [145, 340]], red);
label(10, 372, "prędkość wiatru", dark);
leader([[92, 367], [136, 367]], dark);
label(10, 385, "w środku obszaru", dark);
label(10, 413, "kierunek wiatru", dark);
leader([[85, 410], [135, 410], [142, 418]], dark);
label(6, 433, "Wierzchołek chmur", brown);
leader([[100, 430], [135, 431], [184, 448]], brown);
label(6, 449, "Podstawa chmur*");
label(6, 460, "o pokryciu");
label(11, 472, "> 7.9 okt.");
leader([[58, 468], [135, 468], [192, 456]], "#000");
label(11, 483, "> 6.5 okt.", "#505050");
leader([[58, 480], [142, 480]], "#505050");
label(11, 494, "> 4.5 okt.", "#999");
leader([[58, 491], [133, 491], [144, 502]], "#999");
label(11, 505, "> 2.5 okt.", "#ddd");
leader([[56, 502], [133, 502], [140, 506]], "#ddd");
svg.append("rect").attr("x", 11).attr("y", 506).attr("width", 44).attr("height", 12).attr("fill", "#80c8ff");
label(11, 516, "> 0.1 okt.", "#fff");
leader([[57, 509], [133, 509]], "#80c8ff");
leader([[57, 511], [133, 511]], "#fff");
leader([[57, 513], [133, 513]], "#80c8ff");
label(6, 527, "Widzialność", orange);
leader([[67, 527], [128, 527], [175, 465]], orange);
label(6, 547, "Chmury:");
svg.append("rect").attr("x", 10).attr("y", 551).attr("width", 42).attr("height", 12).attr("fill", "#80c8ff");
label(11, 561, "wysokie", "#fff");
leader([[54, 555], [186, 555]], "#80c8ff");
leader([[54, 557], [186, 557]], "#fff");
leader([[54, 559], [186, 559]], "#80c8ff");
label(10, 573, "średnie", "#999");
leader([[49, 571], [193, 571]], "#999");
label(10, 585, "niskie", "#444");
leader([[40, 582], [123, 582]], "#444");
label(10, 598, "bardzo niskie", "#222");
leader([[75, 594], [135, 594]], "#222");
label(6, 610, "Mgła", "#ffb000");
leader([[27, 605], [215, 605], [219, 600]], "#ffb000");
label(6, 626, "Czas uniwersalny (UTC)");
leader([[139, 623], [148, 623], [157, 610]], "#000");
label(6, 652, "* powyżej poziomu morza", "#000", "start", 9);
</script>
</body>
</html>
